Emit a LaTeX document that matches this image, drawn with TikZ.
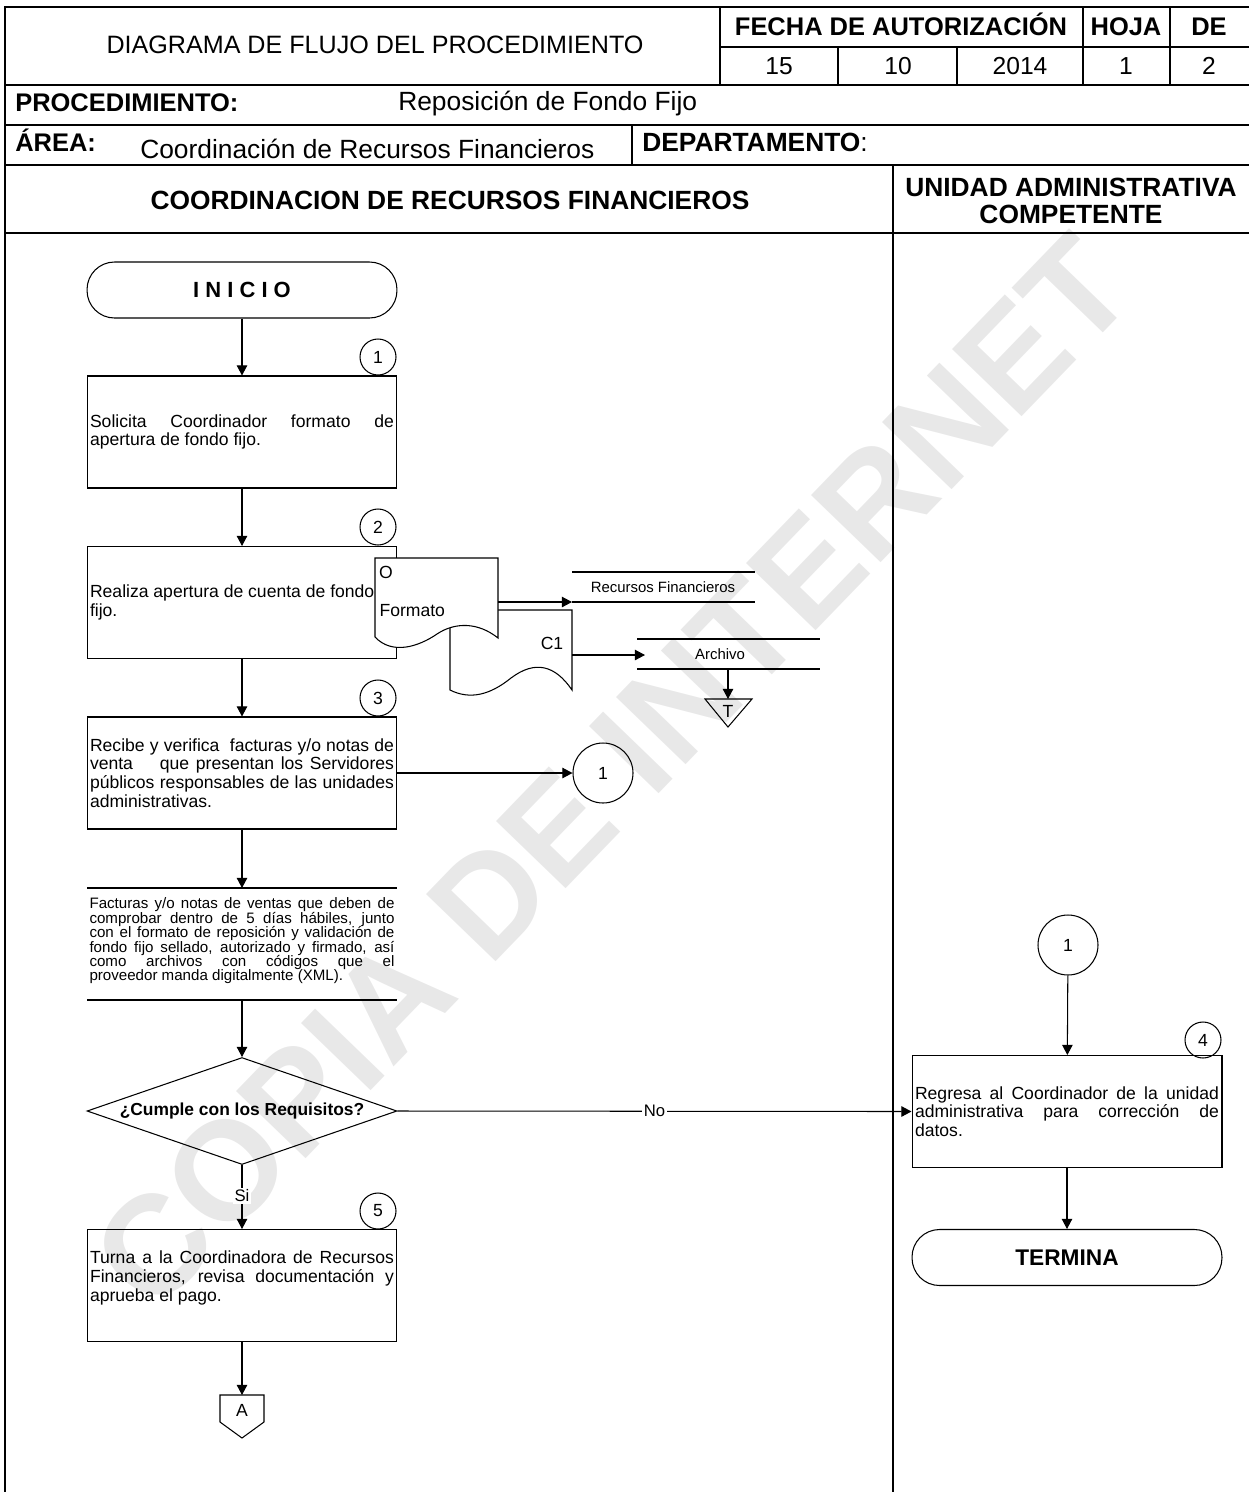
\documentclass[tikz,border=0pt]{standalone}
\usepackage{fontspec}
\setmainfont{Liberation Sans}
\usepackage{tikz}
\usetikzlibrary{shapes.geometric,arrows.meta}
\setlength{\lineskiplimit}{-5pt}

\tikzset{
    marco/.style={line width=1.2pt},
    cabeza/.style={inner sep=1pt, font=\fontsize{15}{16}\selectfont},
    cabezab/.style={inner sep=1pt, font=\fontsize{15}{15}\selectfont\bfseries},
    rotulo/.style={inner sep=1pt, font=\fontsize{14.5}{16}\selectfont\bfseries},
    caja/.style={draw, minimum width=6.2cm, minimum height=2.24cm, text width=6.08cm,
        inner xsep=0.06cm, align=justify, font=\fontsize{10}{10.6}\selectfont},
    paso/.style={draw, circle, minimum size=0.72cm, inner sep=0pt},
    conector/.style={draw, circle, minimum size=1.2cm, inner sep=0pt},
    terminal/.style={draw, rounded corners=0.55cm, minimum width=6.2cm, minimum height=1.12cm},
    flecha/.style={-{Triangle[length=5.8pt,width=6pt]}},
    etiqueta/.style={fill=white, inner sep=1pt, font=\fontsize{9.5}{11}\selectfont},
    chico/.style={font=\fontsize{8.5}{10}\selectfont}
}

\begin{document}
\begin{tikzpicture}[x=0.02cm, y=-0.02cm, line width=0.6pt, font=\fontsize{10}{12}\selectfont]
    \useasboundingbox (0,0) rectangle (1249,1492);

    \node[rotate=46, text=black!9, font=\fontsize{80}{80}\selectfont\bfseries] (marca) at (612,772) {COPIA DE INTERNET};

    \draw[marco] (5,1492) -- (5,7) -- (1249,7);
    \foreach \y in {85,125,165,233}
        \draw[marco] (5,\y) -- (1249,\y);
    \draw[marco] (720,47) -- (1249,47);
    \draw[marco] (720,7) -- (720,85);
    \foreach \x in {838,957}
        \draw[marco] (\x,47) -- (\x,85);
    \foreach \x in {1083,1170}
        \draw[marco] (\x,7) -- (\x,85);
    \draw[marco] (632,125) -- (632,165);
    \draw[marco] (893,165) -- (893,1492);

    \node[cabeza, anchor=base, font=\fontsize{14.3}{16}\selectfont] (titulo) at (375,53) {DIAGRAMA DE FLUJO DEL PROCEDIMIENTO};
    \node[rotulo, anchor=base] (fecha) at (901,35) {FECHA DE AUTORIZACIÓN};
    \node[rotulo, anchor=base] (hoja) at (1126,35) {HOJA};
    \node[rotulo, anchor=base] (de) at (1209,35) {DE};
    \foreach \x/\val [count=\i] in {779/15, 898/10, 1020/2014, 1126/1, 1209/2}
        \node[cabeza, anchor=base, font=\fontsize{14}{16}\selectfont] (dato\i) at (\x,74) {\val};

    \node[rotulo, anchor=base west] (proc) at (13,111) {PROCEDIMIENTO:};
    \node[cabeza, anchor=base west] (procnom) at (396,110) {Reposición de Fondo Fijo};
    \node[rotulo, anchor=base west] (area) at (13,151) {ÁREA:};
    \node[cabeza, anchor=base west] (areanom) at (138,158) {Coordinación de Recursos Financieros};
    \node[cabeza, anchor=base west] (depto) at (640,151) {\textbf{DEPARTAMENTO}:};
    \node[cabezab, anchor=base] (carril1) at (450,209) {COORDINACION DE RECURSOS FINANCIEROS};
    \node[cabezab, align=center] (carril2) at (1071,201) {UNIDAD ADMINISTRATIVA\\COMPETENTE};

    \node[terminal, font=\fontsize{12.5}{14}\selectfont\bfseries] (inicio) at (242,290) {I N I C I O};
    \foreach \n/\y in {1/357, 2/527, 3/698, 5/1211}
        \node[paso] (paso\n) at (378,\y) {\n};
    \node[paso] (paso4) at (1203,1040) {4};

    \node[caja] (caja1) at (242,432) {Solicita Coordinador formato de\linebreak apertura de fondo fijo.};
    \node[caja] (caja2) at (242,602.5) {Realiza apertura de cuenta de fondo\\fijo.};

    \draw[fill=white] (450,610) -- (572,610) -- (572,690)
        .. controls (555,665) and (535,660) .. (511,678)
        .. controls (490,695) and (470,700) .. (450,690) -- cycle;
    \draw[fill=white] (375,558) -- (498,558) -- (498,638)
        .. controls (478,622) and (455,622) .. (437,634)
        .. controls (418,647) and (392,655) .. (375,637) -- cycle;
    \node (docO) at (386,572) {O};
    \node[anchor=west, inner sep=0pt] (formato) at (379,611) {Formato};
    \node (docC) at (552,643) {C1};
    \coordinate (salidaO) at (498,602);
    \coordinate (salidaC) at (572,655);

    \draw (572,572) -- (755,572) (572,602) -- (755,602);
    \node[chico] (recursos) at (663,587) {Recursos Financieros};
    \coordinate (recursosIn) at (572,602);
    \draw[flecha] (salidaO) -- (recursosIn);

    \draw (637,639) -- (820,639) (637,669) -- (820,669);
    \node[chico] (archivo) at (720,654) {Archivo};
    \coordinate (archivoIn) at (645,655);
    \coordinate (archivoOut) at (728,669);
    \draw[flecha] (salidaC) -- (archivoIn);
    \draw (705,699) -- (752,699) -- (728,727) -- cycle;
    \node (temporal) at (728,711) {T};
    \coordinate (temporalIn) at (728,699);
    \draw[flecha] (archivoOut) -- (temporalIn);

    \node[caja] (caja3) at (242,773) {Recibe y verifica\ \ facturas y/o notas de\linebreak venta\ \ \ \ que presentan los Servidores\linebreak públicos responsables de las unidades\linebreak administrativas.};
    \node[conector] (con1) at (603,773) {1};

    \draw (87,888) -- (397,888) (87,1000) -- (397,1000);
    \node[text width=6.1cm, align=justify, inner sep=0pt, font=\fontsize{8.6}{8.2}\selectfont] (facturas) at (242,941) {Facturas y/o notas de ventas que deben de\linebreak comprobar dentro de 5 días hábiles, junto\linebreak con el formato de reposición y validación de\linebreak fondo fijo sellado, autorizado y firmado, así\linebreak como archivos con códigos que el\linebreak proveedor manda digitalmente (XML).};
    \coordinate (facturasIn) at (242,888);
    \coordinate (facturasOut) at (242,1000);

    \node[draw, diamond, aspect=2.9, minimum width=6.2cm, minimum height=2.14cm, inner sep=0pt,
        font=\fontsize{9.9}{11}\selectfont\bfseries] (decision) at (242,1111) {¿Cumple con los Requisitos?};

    \node[caja] (caja5) at (242,1285.5) {Turna a la Coordinadora de Recursos\linebreak Financieros, revisa documentación y\linebreak aprueba el pago.\\\mbox{}};
    \draw (220,1395) -- (264,1395) -- (264,1422) -- (242,1438) -- (220,1422) -- cycle;
    \node (paginaA) at (242,1410) {A};
    \coordinate (paginaIn) at (242,1395);

    \node[conector] (con1b) at (1068,945) {1};
    \node[caja] (caja4) at (1067,1111.5) {Regresa al Coordinador de la unidad\linebreak administrativa para corrección de\linebreak datos.};
    \node[terminal, font=\fontsize{12.9}{14}\selectfont\bfseries] (termina) at (1067,1257.5) {TERMINA};

    \draw[flecha] (inicio) -- (caja1);
    \draw[flecha] (caja1) -- (caja2);
    \draw[flecha] (caja2) -- (caja3);
    \draw[flecha] (caja3.east) -- (con1.west);
    \draw[flecha] (caja3.south) -- (facturasIn);
    \draw[flecha] (facturasOut) -- (decision.north);
    \draw[flecha] (decision.east) -- node[etiqueta] (no) {No} (caja4.west);
    \draw[flecha] (decision.south) -- node[etiqueta, pos=0.48] (si) {Si} (caja5.north);
    \draw[flecha] (caja5.south) -- (paginaIn);
    \draw[flecha] (con1b) -- (caja4);
    \draw[flecha] (caja4) -- (termina);
\end{tikzpicture}
\end{document}
